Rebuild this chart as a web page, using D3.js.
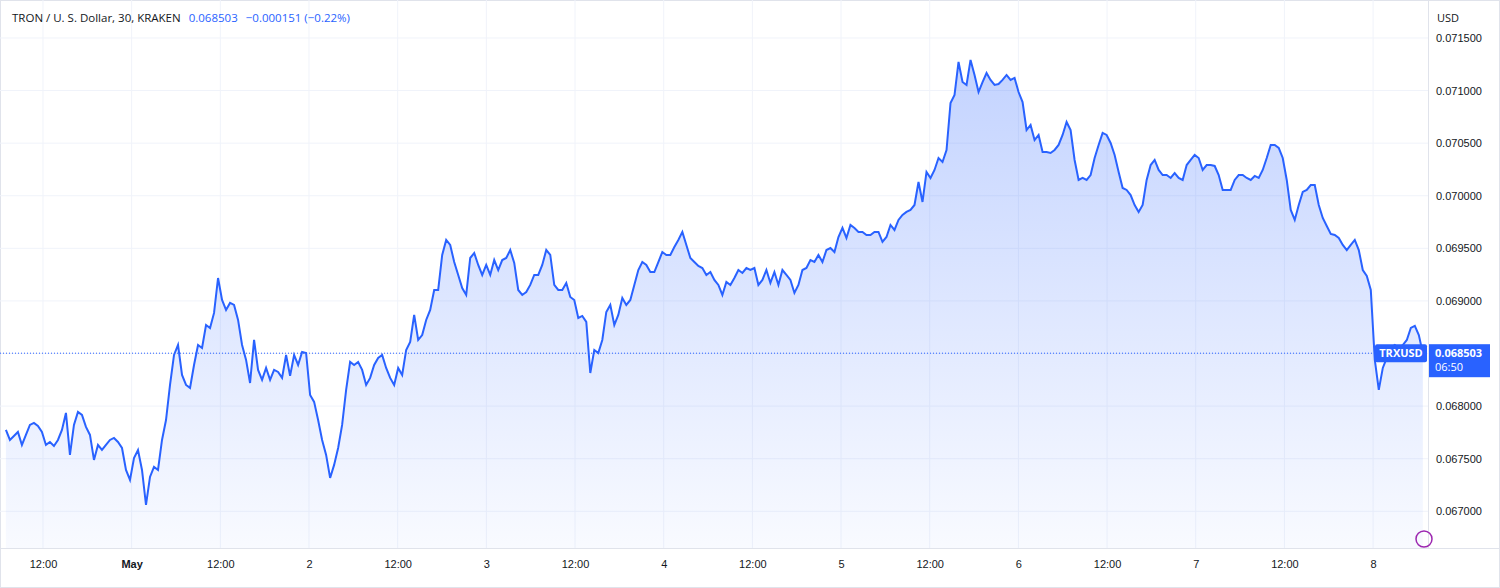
<!DOCTYPE html>
<html><head><meta charset="utf-8">
<script src="https://cdn.jsdelivr.net/npm/d3@7"></script>
<style>body{margin:0;background:#fff;font-family:"Open Sans","DejaVu Sans",sans-serif}</style>
</head><body><svg id="c" width="1500" height="588"></svg>
<script>
const startTime = new Date(2024,3,30,6,59);
const stepMinutes = 32.5;
const prices = [67773,67678,67716,67754,67631,67726,67821,67840,67811,67754,
67631,67659,67621,67678,67773,67935,67536,67821,67944,67916,
67802,67726,67488,67631,67583,67631,67678,67697,67659,67602,
67393,67298,67507,67583,67393,67061,67327,67422,67393,67678,
67868,68201,68486,68581,68296,68201,68173,68391,68581,68553,
68771,68743,68886,69218,69009,68914,68981,68962,68819,68581,
68439,68220,68629,68344,68249,68363,68249,68344,68325,68268,
68486,68287,68486,68391,68515,68505,68106,68040,67868,67678,
67536,67317,67441,67602,67821,68154,68420,68391,68420,68344,
68201,68268,68391,68458,68486,68363,68268,68201,68363,
68296,68534,68610,68867,68629,68676,68819,68914,69104,69104,
69437,69580,69532,69370,69247,69123,69057,69408,69456,69342,
69247,69342,69247,69389,69294,69389,69408,69484,69361,69104,
69057,69085,69152,69247,69247,69342,69484,69437,69152,69104,
69104,69171,69038,69009,68838,68857,68800,68315,68534,68505,
68629,68895,68962,68771,68867,69028,68962,69009,69152,69294,
69370,69342,69275,69275,69370,69465,69437,69437,69513,69580,
69656,69532,69408,69370,69332,69313,69247,69275,69199,69152,
69057,69180,69152,69218,69294,69266,69313,69294,69313,69152,
69199,69294,69171,69275,69152,69294,69247,69199,69076,69152,
69294,69313,69389,69370,69437,69370,69484,69503,69465,69608,
69694,69599,69722,69694,69656,69656,69627,69627,69656,69656,
69561,69608,69722,69675,69770,69817,69846,69865,69912,70131,
69941,70226,70169,70245,70359,70321,70435,70882,70958,71272,
71081,71053,71291,71148,70986,71081,71167,71101,71053,71062,
71101,71148,71101,71120,70986,70891,70625,70673,70530,70578,
70416,70416,70407,70435,70483,70578,70701,70625,70340,70150,
70169,70150,70197,70359,70483,70597,70578,70502,70388,70226,
70074,70055,70007,69912,69846,69912,70150,70292,70340,70245,
70197,70197,70169,70216,70169,70150,70292,70340,70388,70359,
70245,70292,70292,70283,70197,70055,70055,70055,70150,70197,
70197,70169,70150,70188,70169,70245,70359,70483,70483,70454,
70359,70150,69865,69770,69912,70036,70055,70102,70102,69912,
69789,69713,69637,69627,69599,69532,69484,69532,69580,69484,
69294,69237,69104,68439,68154,68363,68458,68553,68581,68553,
68581,68629,68743,68762,68676,68503];
const yTicks = [0.0670,0.0675,0.0680,0.0685,0.0690,0.0695,0.0700,0.0705,0.0710,0.0715];
const xTicks = [["2024-04-30T12:00","12:00"],["2024-05-01T00:00","May"],["2024-05-01T12:00","12:00"],["2024-05-02T00:00","2"],["2024-05-02T12:00","12:00"],["2024-05-03T00:00","3"],["2024-05-03T12:00","12:00"],["2024-05-04T00:00","4"],["2024-05-04T12:00","12:00"],["2024-05-05T00:00","5"],["2024-05-05T12:00","12:00"],["2024-05-06T00:00","6"],["2024-05-06T12:00","12:00"],["2024-05-07T00:00","7"],["2024-05-07T12:00","12:00"],["2024-05-08T00:00","8"]];
const lastPrice = 0.068503;

const data = prices.map((p,i)=>({t:new Date(startTime.getTime()+i*stepMinutes*60000), v:p/1e6}));
const svg = d3.select("#c");
const W=1428, H=548;
const x = d3.scaleTime().domain([new Date(2024,3,30,6,11), new Date(2024,4,8,7,26)]).range([0,W]);
const y = d3.scaleLinear().domain([0.066651,0.071861]).range([H,0]);

svg.append("rect").attr("x",0.5).attr("y",0.5).attr("width",1499).attr("height",587).attr("fill","#fff").attr("stroke","#e0e3eb");
const g = svg.append("g");
g.selectAll(".gy").data(yTicks).join("line").attr("x1",0).attr("x2",W).attr("y1",d=>y(d)).attr("y2",d=>y(d)).attr("stroke","#f0f3fa");
g.selectAll(".gx").data(xTicks).join("line").attr("x1",d=>x(new Date(d[0]))).attr("x2",d=>x(new Date(d[0]))).attr("y1",0).attr("y2",H).attr("stroke","#f0f3fa");

const defs = svg.append("defs");
const gr = defs.append("linearGradient").attr("id","ag").attr("x1",0).attr("x2",0).attr("y1",0).attr("y2",1);
gr.append("stop").attr("offset","0%").attr("stop-color","#2962ff").attr("stop-opacity",0.28);
gr.append("stop").attr("offset","100%").attr("stop-color","#2962ff").attr("stop-opacity",0.03);
g.append("path").datum(data).attr("fill","url(#ag)")
 .attr("d",d3.area().x(d=>x(d.t)).y0(H).y1(d=>y(d.v)));
g.append("path").datum(data).attr("fill","none").attr("stroke","#2962ff").attr("stroke-width",2)
 .attr("d",d3.line().x(d=>x(d.t)).y(d=>y(d.v)));

g.append("line").attr("x1",0).attr("x2",W).attr("y1",y(lastPrice)).attr("y2",y(lastPrice)).attr("stroke","#2962ff").attr("stroke-dasharray","1,2");

svg.append("line").attr("x1",W+0.5).attr("x2",W+0.5).attr("y1",0).attr("y2",H).attr("stroke","#e0e3eb");
svg.append("line").attr("x1",0).attr("x2",1500).attr("y1",H+0.5).attr("y2",H+0.5).attr("stroke","#e0e3eb");

const yAx = svg.append("g").attr("transform",`translate(${W},0)`).call(d3.axisRight(y).tickValues(yTicks).tickSize(0).tickFormat(d3.format(".6f")));
yAx.select(".domain").remove();
yAx.selectAll("text").attr("x",8).attr("fill","#131722").style("font-size","11px");

const xAx = svg.append("g").attr("transform",`translate(0,${H})`).call(d3.axisBottom(x).tickValues(xTicks.map(d=>new Date(d[0]))).tickSize(0).tickFormat((d,i)=>xTicks[i][1]));
xAx.select(".domain").remove();
xAx.selectAll("text").attr("y",12).attr("fill","#131722").style("font-size","11px").style("font-weight",(d,i)=>xTicks[i][1]==="May"?"bold":"normal");

svg.append("text").attr("x",1437).attr("y",22).attr("font-size",11).attr("fill","#131722").text("USD");
const hdr = svg.append("text").attr("x",12).attr("y",22).attr("font-size",11.5);
hdr.append("tspan").attr("fill","#131722").text("TRON / U. S. Dollar, 30, KRAKEN");
hdr.append("tspan").attr("dx",8).attr("fill","#2962ff").text("0.068503");
hdr.append("tspan").attr("dx",8).attr("fill","#2962ff").text("−0.000151 (−0.22%)");

const ly = y(lastPrice);
svg.append("rect").attr("x",1375).attr("y",ly-9).attr("width",52).attr("height",18).attr("rx",2).attr("fill","#2962ff");
svg.append("text").attr("x",1401).attr("y",ly+4).attr("text-anchor","middle").attr("fill","#fff").attr("font-size",11).attr("font-weight","bold").text("TRXUSD");
svg.append("rect").attr("x",1429).attr("y",ly-9).attr("width",61).attr("height",33).attr("fill","#2962ff");
svg.append("text").attr("x",1435).attr("y",ly+4).attr("fill","#fff").attr("font-size",11).attr("font-weight","bold").text("0.068503");
svg.append("text").attr("x",1435).attr("y",ly+18).attr("fill","#fff").attr("font-size",11).text("06:50");
svg.append("circle").attr("cx",1424).attr("cy",539).attr("r",8).attr("fill","none").attr("stroke","#9c27b0").attr("stroke-width",1.5);
</script></body></html>
